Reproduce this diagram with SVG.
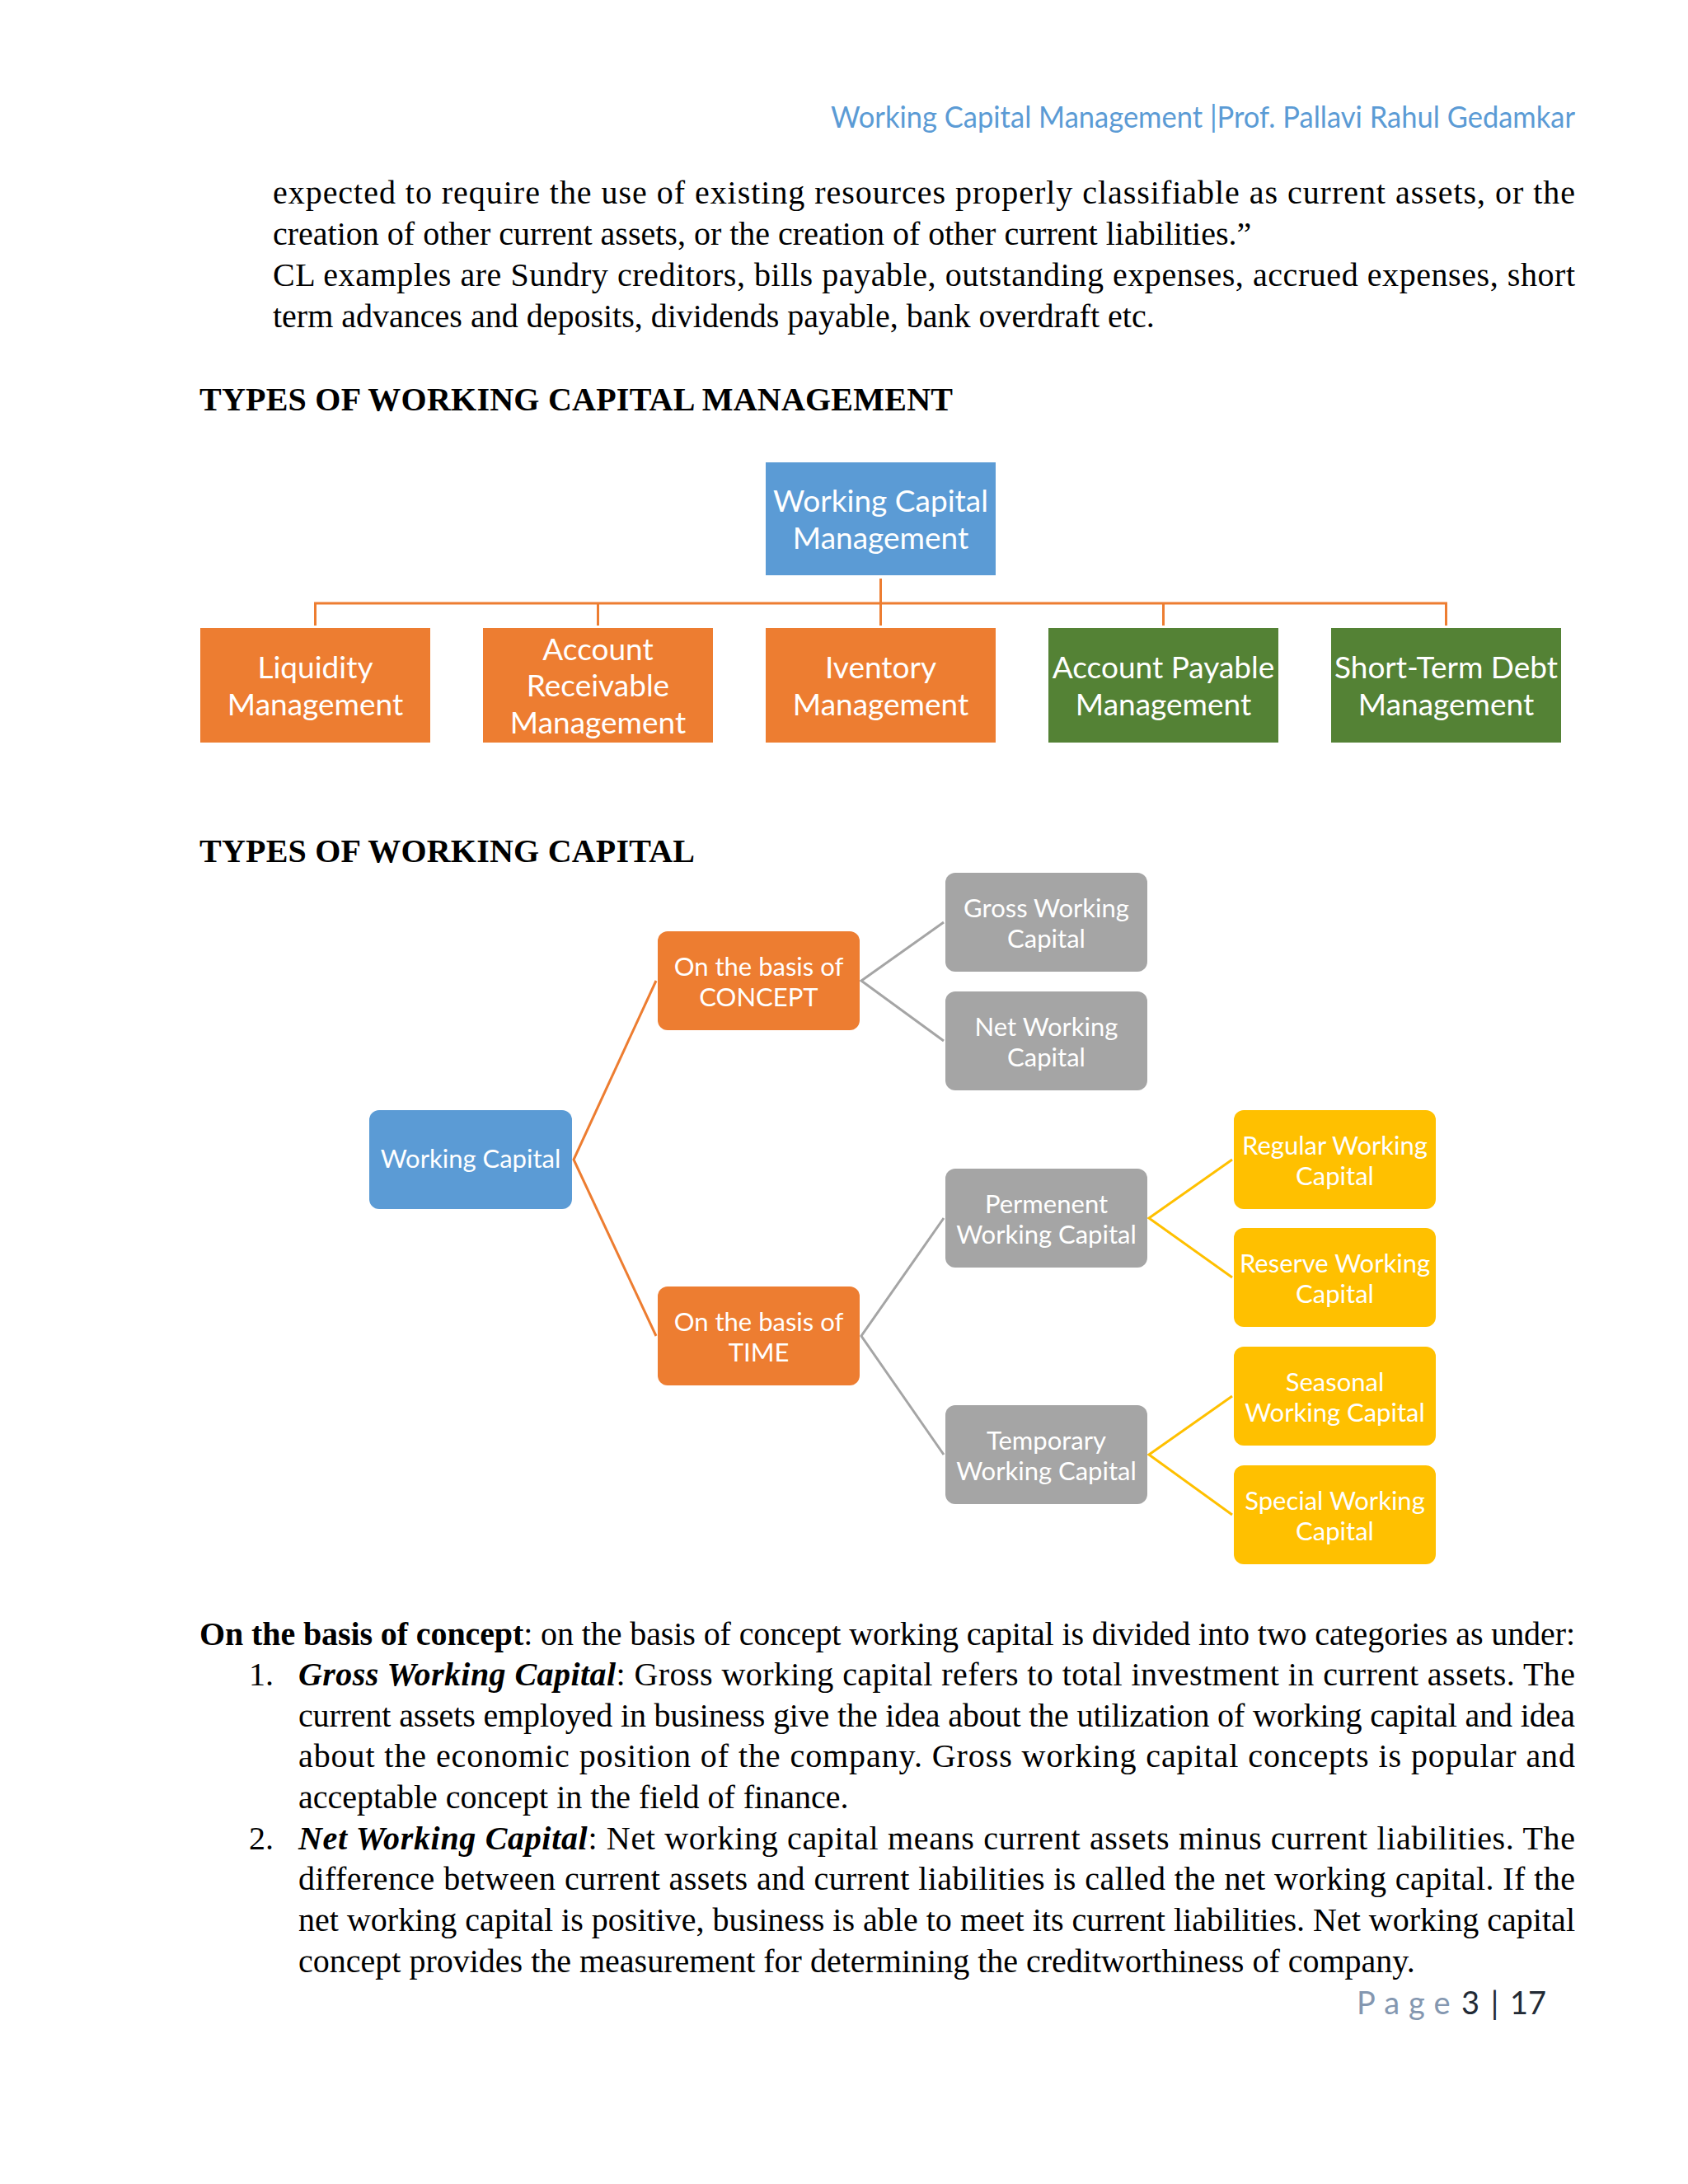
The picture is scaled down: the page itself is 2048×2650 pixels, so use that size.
<svg xmlns="http://www.w3.org/2000/svg" width="2048" height="2650" viewBox="0 0 2048 2650">
<defs>
<style>
.body{font-family:"Liberation Serif","Times New Roman",serif;font-size:40px;fill:#000}
.bold{font-weight:bold}
.bi{font-weight:bold;font-style:italic}
.hdr{font-family:Lato,"Open Sans",sans-serif;font-size:37px;fill:#5B9BD5}
.n1{font-family:Lato,"Open Sans",sans-serif;font-size:37px;fill:#fff;text-anchor:middle}
.n2{font-family:Lato,"Open Sans",sans-serif;font-size:31px;fill:#fff;text-anchor:middle}
.blue{fill:#5B9BD5}
.orange{fill:#ED7D31}
.green{fill:#548235}
.gray{fill:#A5A5A5}
.yellow{fill:#FFC000}
.c-or{stroke:#ED7D31;stroke-width:3;fill:none}
.c-gr{stroke:#A5A5A5;stroke-width:3;fill:none}
.c-ye{stroke:#FFC000;stroke-width:3;fill:none}
</style>
</defs>
<rect width="2048" height="2650" fill="#fff"/>

<!-- header -->
<text class="hdr" x="1008" y="155" textLength="903" lengthAdjust="spacingAndGlyphs">Working Capital Management |Prof. Pallavi Rahul Gedamkar</text>

<!-- top paragraph -->
<text class="body" x="331" y="247" textLength="1580" lengthAdjust="spacing">expected to require the use of existing resources properly classifiable as current assets, or the</text>
<text class="body" x="331" y="297">creation of other current assets, or the creation of other current liabilities.”</text>
<text class="body" x="331" y="347" textLength="1580" lengthAdjust="spacing">CL examples are Sundry creditors, bills payable, outstanding expenses, accrued expenses, short</text>
<text class="body" x="331" y="397">term advances and deposits, dividends payable, bank overdraft etc.</text>

<text class="body bold" x="242" y="498" textLength="914" lengthAdjust="spacing">TYPES OF WORKING CAPITAL MANAGEMENT</text>

<!-- diagram 1 connectors -->
<g id="connectors-1">
<path class="c-or" d="M1068.5 702 V732 M382.5 732 H1754.5 M382.5 730.5 V759 M725.5 732 V759 M1068.5 732 V759 M1411.5 732 V759 M1754.5 730.5 V759"/>
</g>

<g id="wcm">
<rect class="blue" x="929" y="561" width="279" height="137"/>
<text class="n1" x="1068.5" y="621">Working Capital</text>
<text class="n1" x="1068.5" y="666">Management</text>
</g>
<g id="liquidity">
<rect class="orange" x="243" y="762" width="279" height="139"/>
<text class="n1" x="382.5" y="823">Liquidity</text>
<text class="n1" x="382.5" y="868">Management</text>
</g>
<g id="receivable">
<rect class="orange" x="586" y="762" width="279" height="139"/>
<text class="n1" x="725.5" y="801">Account</text>
<text class="n1" x="725.5" y="845">Receivable</text>
<text class="n1" x="725.5" y="890">Management</text>
</g>
<g id="inventory">
<rect class="orange" x="929" y="762" width="279" height="139"/>
<text class="n1" x="1068.5" y="823">Iventory</text>
<text class="n1" x="1068.5" y="868">Management</text>
</g>
<g id="payable">
<rect class="green" x="1272" y="762" width="279" height="139"/>
<text class="n1" x="1411.5" y="823">Account Payable</text>
<text class="n1" x="1411.5" y="868">Management</text>
</g>
<g id="shortterm">
<rect class="green" x="1615" y="762" width="279" height="139"/>
<text class="n1" x="1754.5" y="823">Short-Term Debt</text>
<text class="n1" x="1754.5" y="868">Management</text>
</g>

<text class="body bold" x="242" y="1046" textLength="601" lengthAdjust="spacing">TYPES OF WORKING CAPITAL</text>

<!-- diagram 2 connectors -->
<g id="connectors-2">
<path class="c-or" d="M796 1190 L696 1407 L796 1621"/>
<path class="c-gr" d="M1145 1119 L1045 1190 L1145 1263"/>
<path class="c-gr" d="M1145 1478 L1045 1621 L1145 1765"/>
<path class="c-ye" d="M1495 1407 L1394 1478 L1495 1550"/>
<path class="c-ye" d="M1495 1694 L1394 1765 L1495 1838"/>
</g>

<g id="wc">
<rect class="blue" x="448" y="1347" width="246" height="120" rx="12"/>
<text class="n2" x="571" y="1417">Working Capital</text>
</g>
<g id="concept">
<rect class="orange" x="798" y="1130" width="245" height="120" rx="12"/>
<text class="n2" x="920.5" y="1184">On the basis of</text>
<text class="n2" x="920.5" y="1221">CONCEPT</text>
</g>
<g id="time">
<rect class="orange" x="798" y="1561" width="245" height="120" rx="12"/>
<text class="n2" x="920.5" y="1615">On the basis of</text>
<text class="n2" x="920.5" y="1652">TIME</text>
</g>
<g id="gross">
<rect class="gray" x="1147" y="1059" width="245" height="120" rx="12"/>
<text class="n2" x="1269.5" y="1113">Gross Working</text>
<text class="n2" x="1269.5" y="1150">Capital</text>
</g>
<g id="net">
<rect class="gray" x="1147" y="1203" width="245" height="120" rx="12"/>
<text class="n2" x="1269.5" y="1257">Net Working</text>
<text class="n2" x="1269.5" y="1294">Capital</text>
</g>
<g id="permanent">
<rect class="gray" x="1147" y="1418" width="245" height="120" rx="12"/>
<text class="n2" x="1269.5" y="1472">Permenent</text>
<text class="n2" x="1269.5" y="1509">Working Capital</text>
</g>
<g id="temporary">
<rect class="gray" x="1147" y="1705" width="245" height="120" rx="12"/>
<text class="n2" x="1269.5" y="1759">Temporary</text>
<text class="n2" x="1269.5" y="1796">Working Capital</text>
</g>
<g id="regular">
<rect class="yellow" x="1497" y="1347" width="245" height="120" rx="12"/>
<text class="n2" x="1619.5" y="1401">Regular Working</text>
<text class="n2" x="1619.5" y="1438">Capital</text>
</g>
<g id="reserve">
<rect class="yellow" x="1497" y="1490" width="245" height="120" rx="12"/>
<text class="n2" x="1619.5" y="1544">Reserve Working</text>
<text class="n2" x="1619.5" y="1581">Capital</text>
</g>
<g id="seasonal">
<rect class="yellow" x="1497" y="1634" width="245" height="120" rx="12"/>
<text class="n2" x="1619.5" y="1688">Seasonal</text>
<text class="n2" x="1619.5" y="1725">Working Capital</text>
</g>
<g id="special">
<rect class="yellow" x="1497" y="1778" width="245" height="120" rx="12"/>
<text class="n2" x="1619.5" y="1832">Special Working</text>
<text class="n2" x="1619.5" y="1869">Capital</text>
</g>

<!-- bottom text -->
<text class="body" x="242" y="1996" textLength="1669" lengthAdjust="spacing"><tspan class="bold">On the basis of concept</tspan>: on the basis of concept working capital is divided into two categories as under:</text>
<text class="body" x="302" y="2045">1.</text>
<text class="body" x="362" y="2045" textLength="1549" lengthAdjust="spacing"><tspan class="bi">Gross Working Capital</tspan>: Gross working capital refers to total investment in current assets. The</text>
<text class="body" x="362" y="2095" textLength="1549" lengthAdjust="spacing">current assets employed in business give the idea about the utilization of working capital and idea</text>
<text class="body" x="362" y="2144" textLength="1549" lengthAdjust="spacing">about the economic position of the company. Gross working capital concepts is popular and</text>
<text class="body" x="362" y="2194">acceptable concept in the field of finance.</text>
<text class="body" x="302" y="2244">2.</text>
<text class="body" x="362" y="2244" textLength="1549" lengthAdjust="spacing"><tspan class="bi">Net Working Capital</tspan>: Net working capital means current assets minus current liabilities. The</text>
<text class="body" x="362" y="2293" textLength="1549" lengthAdjust="spacing">difference between current assets and current liabilities is called the net working capital. If the</text>
<text class="body" x="362" y="2343" textLength="1549" lengthAdjust="spacing">net working capital is positive, business is able to meet its current liabilities. Net working capital</text>
<text class="body" x="362" y="2393">concept provides the measurement for determining the creditworthiness of company.</text>

<!-- footer -->
<text x="1646" y="2444" style="font-family:Lato,'Open Sans',sans-serif;font-size:38px;fill:#8497B0;letter-spacing:11px">Page</text>
<text x="1773" y="2444" style="font-family:Lato,'Open Sans',sans-serif;font-size:38px;fill:#222A35">3 <tspan dx="4">|</tspan> <tspan dx="4">17</tspan></text>
</svg>
